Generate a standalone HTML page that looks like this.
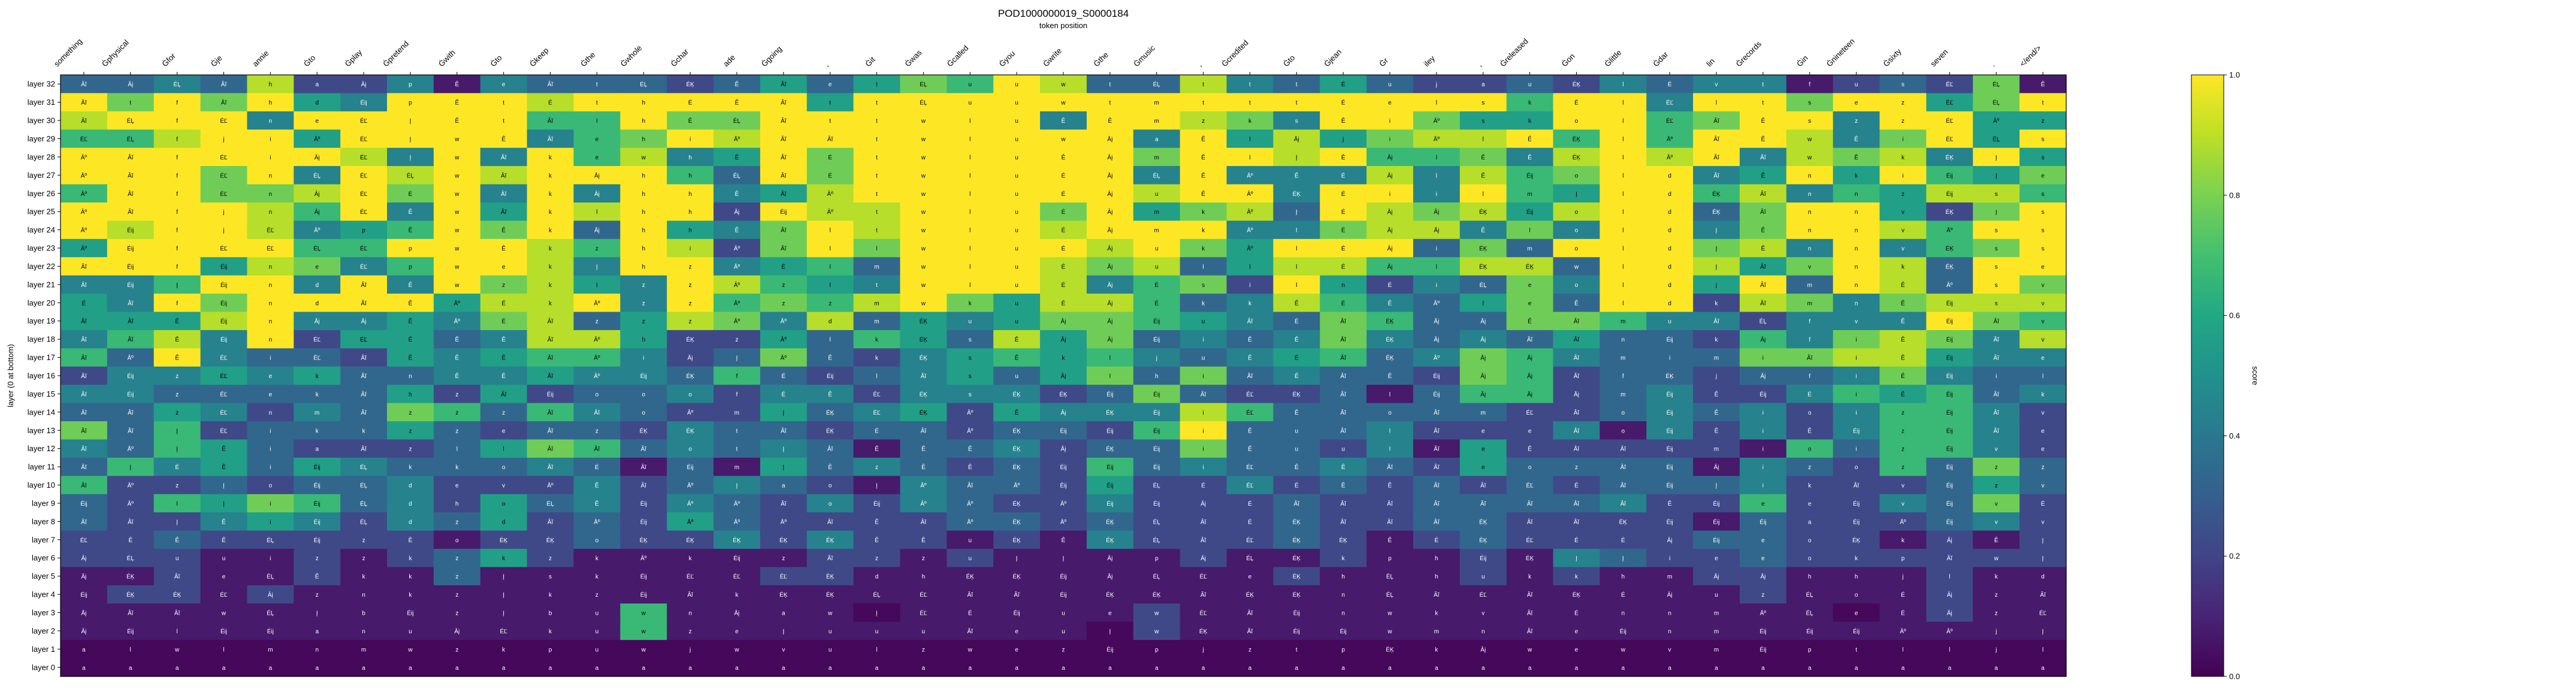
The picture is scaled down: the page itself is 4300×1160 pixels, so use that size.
<!DOCTYPE html>
<html><head><meta charset="utf-8"><style>
html,body{margin:0;padding:0;background:#fff;}
svg text{font-family:"Liberation Sans","DejaVu Sans",sans-serif;}
</style></head><body>
<svg id="chart" xmlns="http://www.w3.org/2000/svg" width="4300" height="1155" viewBox="0 0 4300 1155">
<text x="1775" y="28" font-size="17" text-anchor="middle">POD1000000019_S0000184</text>
<text x="1775" y="47" font-size="13" text-anchor="middle">token position</text>
<text x="22" y="627" font-size="13" text-anchor="middle" transform="rotate(-90 22 627)">layer (0 at bottom)</text>
<g id="cells"></g><g id="xlabels"></g><g id="ylabels"></g><g id="cbar"></g>
</svg>
<script>
const tokens = ["something","Ġphysical","Ġfor","Ġje","annie","Ġto","Ġplay","Ġpretend","Ġwith","Ġto","Ġkeep","Ġthe","Ġwhole","Ġchar","ade","Ġgoing",",","Ġit","Ġwas","Ġcalled","Ġyou","Ġwrite","Ġthe","Ġmusic",",","Ġcredited","Ġto","Ġjean","Ġr","iley",",","Ġreleased","Ġon","Ġlittle","Ġdar","lin","Ġrecords","Ġin","Ġnineteen","Ġsixty","seven",".","</end/>"];
const layers = ["layer 32","layer 31","layer 30","layer 29","layer 28","layer 27","layer 26","layer 25","layer 24","layer 23","layer 22","layer 21","layer 20","layer 19","layer 18","layer 17","layer 16","layer 15","layer 14","layer 13","layer 12","layer 11","layer 10","layer 9","layer 8","layer 7","layer 6","layer 5","layer 4","layer 3","layer 2","layer 1","layer 0"];
const levelScores = [0.02,0.07,0.22,0.33,0.44,0.56,0.67,0.78,0.89,1.0];
const scoreRows = [
"33438224143332"+"353576983384353"+"22324344123271",
"97979549998999"+"995999999999999"+"99699499799579",
"89994999996697"+"799999949987499"+"75599679949955",
"66899599994679"+"899999999495857"+"88969699847959",
"99999984949684"+"597999999799896"+"67489894878495",
"99979498989996"+"397999999494448"+"48679945959657",
"69977897949499"+"458999999899499"+"49659968465886",
"99998694959899"+"298899979578398"+"78589937995279",
"98998456979395"+"479899989994478"+"84749947998699",
"59999669998698"+"279799998975999"+"37399978494679",
"99958746998499"+"456399987835886"+"68839985798399",
"44699494978549"+"865499984672952"+"43749959398397",
"54979999588949"+"676897588634864"+"35739928747888",
"55589445478358"+"748354577654376"+"33776442444976",
"46849255348852"+"253653857343474"+"34353326478748",
"63943325456642"+"373245656434563"+"47643337788544",
"24454533445443"+"632345357373433"+"27623323347433",
"44333335252334"+"244244423732231"+"36623422465634",
"33542437636432"+"253452544486333"+"33223434246642",
"73623335323324"+"332332332693334"+"22241424246642",
"43653222357634"+"343133423373324"+"15222221636642",
"36453543334313"+"153432326343343"+"25333314326373",
"62232334222423"+"432143325224232"+"32323334222353",
"32657634253424"+"324243224222322"+"33334226224372",
"32245424352325"+"322223323222322"+"33222213222342",
"22322222122322"+"424221214222321"+"23222233221212",
"22211212352111"+"112212111121121"+"12143223222222",
"11211211311111"+"122111111111211"+"12121122111211",
"12212111111111"+"111111111111111"+"11111112111211",
"11111111111161"+"111011111211111"+"11111111101211",
"11111111111161"+"111111110211111"+"11111111111111",
"0000000000000000000000000000000000000000000",
"0000000000000000000000000000000000000000000"
];
const cellText = [
"Âĭ Āį ÉĻ Âĭ h a Āį p Ê e Âĭ t ÉĻ ÉĶ Ê Âĭ e t ÉĻ u u w t ÉĻ t t t É u j a u ÉĶ l É v t f u s ÉĽ ÉĻ Ê",
"Âĭ t f Âĭ h d Éij p Ê t É t h É Ê Âĭ t t ÉĻ u u w t m t t t É e l s k É l ÉĽ l t s e z ÉĽ ÉĻ t",
"Âĭ ÉĻ f ÉĽ n e ÉĽ Į Ê t Âĭ l h Ê ÉĻ Âĭ t t w l u Ê Ê m z k s Ê i Āº s k o l ÉĽ Âĭ Ê s z z ÉĽ Āº z",
"ÉĽ ÉĻ f j i Āº ÉĽ Į w Ê Âĭ e h i Āº Âĭ Âĭ t w l u w Āį a Ê l Āį j i Āº l Ê ÉĶ l Āº Âĭ Ê w Ê i ÉĽ ÉĻ s",
"Āº Âĭ f ÉĽ i Āį ÉĽ Į w Âĭ k e w h Ê Âĭ É t w l u Ê Āį m Ê l Į Ê Āį l Ê Ê ÉĶ l Āº Âĭ Âĭ w Ê k ÉĶ Į s",
"Āº Âĭ f ÉĽ n ÉĻ ÉĽ ÉĻ w Âĭ k Āį h h ÉĻ Âĭ É t w l u É Āį ÉĻ Ê Āº Ê É Āį l Ê Éij o l d Âĭ Ê n k i Éij Į e",
"Āº Âĭ f ÉĽ n Āį ÉĽ É w Âĭ k Āį h h Ê Âĭ Āº t w l u É Āį u Ê Āº ÉĶ É i i l m Į l d ÉĶ Âĭ n n z Éij s s",
"Āº Âĭ f j n Āį ÉĽ Ê w Âĭ k l h h Āį Éij Āº t w l u É Āį m k Āº Į É Āį Āį ÉĶ Éij o l d ÉĶ Âĭ n n v ÉĶ Į s",
"Āº Éij f j ÉĽ Āº p Ê w Ê k Āį h h Ê Âĭ l t w l u É Āį m k Āº l É Āį Āį Ê l o l d Į Ê n n v Āº s s",
"Āº Éij f ÉĽ ÉĽ ÉĻ ÉĽ p w Ê k z h i Āº Âĭ l l w l u É Āį u k Āº l É Āį i ÉĶ m o l d Į Ê n n v ÉĶ s s",
"Âĭ Éij f Éij n e ÉĽ p w e k Į h z Āº É l m w l u É Āį u l l l É Āį l ÉĶ ÉĶ w l d Į Âĭ v n k ÉĶ s e",
"Âĭ Éij Į Éij n d Âĭ Ê w z k l z z Āº z l t w l u É Āį É s i l n É i ÉĻ e o l d j Âĭ m n Ê Āº s v",
"É Âĭ f Éij n d Âĭ Ê Āº É k Āº z z Āº z z m w k u É Āį É k k Ê É Ê Āº l e Ê l d k Âĭ m n Ê Éij s v",
"Âĭ Âĭ Ê Éij n Āį Āį Ê Āº É Âĭ z z z Āº Āº d m ÉĶ u u Āį Āį Éij u Âĭ É Âĭ ÉĶ Āį Āį Ê Âĭ m u Âĭ ÉĻ f v Ê Éij Âĭ v",
"Âĭ Âĭ Ê Éij n ÉĽ ÉĽ Ê Ê Ê Âĭ Āº h ÉĶ z Āº l k ÉĶ s Ê Āį Āį Éij i Ê Ê Âĭ ÉĶ Āį Āį Âĭ Âĭ n Éij k Āį f i Ê Éij Âĭ v",
"Âĭ Āº Ê ÉĽ i ÉĽ Âĭ Ê Ê Ê Âĭ Āº i Āį Į Āº Ê k ÉĶ s Ê k l j u Ê É Âĭ ÉĶ Āº Āį Āį Âĭ m i m i Âĭ i Ê Éij Âĭ e",
"Âĭ Éij z ÉĽ e k Âĭ n Ê Ê Âĭ Āº Éij ÉĶ f É Éij l Âĭ s u Āį l h i Âĭ Ê Âĭ Ê Éij Āį Āį Âĭ f ÉĶ j Āį f i Ê Éij i l",
"Âĭ Éij z ÉĽ e k Âĭ h z Âĭ Éij o o o f É Ê ÉĽ ÉĶ s ÉĶ ÉĶ Éij Éij Âĭ ÉĽ ÉĶ Âĭ l Éij Āį Āį Āį m Éij Ê Éij É i Ê Éij Âĭ k",
"Âĭ Âĭ z ÉĽ n m Âĭ z z z Âĭ Âĭ o Āº m Į ÉĶ ÉĽ ÉĶ Āº Ê Āį ÉĶ Éij i ÉĽ Ê Âĭ o Âĭ m ÉĽ Âĭ o Éij Ê i o i z Éij Âĭ v",
"Âĭ Âĭ Į ÉĽ i k k z z e Âĭ z ÉĶ ÉĶ t Âĭ ÉĶ É Âĭ Āº ÉĶ Éij Éij Éij i Ê u Âĭ l Âĭ e e Âĭ o Éij Ê i Ê Éij z Éij Âĭ e",
"Âĭ Āº Į Ê i a Âĭ z l l Âĭ Âĭ Âĭ o t Į Âĭ Ê Ê Ê ÉĶ Āį ÉĶ Éij i Ê u u l Âĭ e Ê Âĭ Âĭ Éij m i o i z Éij v e",
"Âĭ Į É Ê i Éij ÉĻ k k o Âĭ É Âĭ Éij m Į Ê z Ê Ê ÉĶ Éij Éij Éij i ÉĽ Ê Ê Âĭ Âĭ e o z Âĭ Éij Āį i z o z Éij z z",
"Âĭ Āº z Į o Éij ÉĻ d e v Āº Ê Âĭ Āº Į a o Į Āº Âĭ Āº Éij Éij ÉĻ É ÉĽ É Ê Ê Âĭ Âĭ ÉĽ É Âĭ Éij Į i k Âĭ v Éij z v",
"Éij Āº l Į i Éij ÉĻ d h o ÉĻ Ê Éij Āº Āº Âĭ o Éij Āº Āº ÉĶ Āº Éij Éij Āį É Âĭ Âĭ Âĭ Âĭ Âĭ Âĭ Âĭ Âĭ Ê Éij e e Éij v Éij v É",
"Âĭ Âĭ Į Ê i Éij ÉĻ d z d Âĭ Āº Éij Āº Āº Āº Âĭ Ê Âĭ Āº ÉĶ Āº ÉĶ ÉĻ Âĭ É ÉĶ Âĭ Âĭ Âĭ ÉĶ Âĭ Âĭ ÉĶ Éij Éij Éij a Éij Āº Éij v v",
"ÉĽ Ê Ê Ê ÉĻ Éij z Ê o ÉĶ ÉĶ o ÉĶ ÉĶ ÉĶ ÉĶ ÉĶ Ê Ê u ÉĶ Ê ÉĶ ÉĻ Âĭ ÉĽ ÉĶ ÉĶ Ê É ÉĶ ÉĽ É É Āį Éij e o ÉĶ k Āį Ê Į",
"Āį ÉĻ u u i z z k z k z k Āº k Éij z Âĭ z z u Į Į Āį p Āį ÉĻ ÉĶ k p h Éij ÉĶ Į Į i e e o k p Âĭ w Į",
"Āį ÉĶ Âĭ e ÉĻ Ê k k z Į s k Éij ÉĽ ÉĽ ÉĽ ÉĶ d h ÉĶ ÉĶ Éij Āį ÉĻ ÉĽ e ÉĶ h ÉĻ h u k k h m Āį Āį h h j l k d",
"Éij ÉĶ ÉĶ ÉĽ Āį z n k z Į k z Éij Âĭ k ÉĶ ÉĶ ÉĻ ÉĽ Âĭ Âĭ Éij ÉĶ ÉĶ Âĭ ÉĶ ÉĶ n ÉĻ Âĭ ÉĽ Âĭ ÉĶ É Āį u z ÉĻ o É Āį z Âĭ",
"Āį Âĭ Âĭ w ÉĻ Į b Éij z Į b u w n Āį a w Į ÉĽ É Éij u e w ÉĽ Âĭ Éij n w k v Âĭ É n n m Āº ÉĻ e É Āį z ÉĽ",
"Āį Éij l Éij Éij a n u Āį ÉĽ k u w z e Į u u u Âĭ e u Į w ÉĶ Âĭ Éij Éij w m n Âĭ e Éij n m Éij Éij Éij Āº Āº j Į",
"a l w l m n m w z k p u w j w v u l z w e z Éij p j z t p ÉĶ k Āį w e w v m Éij p t l l j l",
"a a a a a a a a a a a a a a a a a a a a a a a a a a a a a a a a a a a a a a a a a a a"
];
const cbTicks = [0.0,0.2,0.4,0.6,0.8,1.0];
const cbTickLabels = ["0.0","0.2","0.4","0.6","0.8","1.0"];

const NS="http://www.w3.org/2000/svg";
const X0=101, X1=3449, Y0=125, Y1=1129;
const cw=(X1-X0)/tokens.length, ch=(Y1-Y0)/layers.length;
const xPos=i=>X0+i*cw, yPos=r=>Y0+r*ch;
const stops=[[68,1,84],[72,36,117],[65,68,135],[53,95,141],[42,120,142],[33,145,140],[34,168,132],[68,191,112],[122,209,81],[189,223,38],[253,231,37]];
function viridis(v){v=Math.max(0,Math.min(1,v));const t=v*10,i=Math.min(9,Math.floor(t)),f=t-i;const a=stops[i],b=stops[i+1];
return `rgb(${Math.round(a[0]+(b[0]-a[0])*f)},${Math.round(a[1]+(b[1]-a[1])*f)},${Math.round(a[2]+(b[2]-a[2])*f)})`;}
function mk(tag,attrs,parent){const e=document.createElementNS(NS,tag);for(const k in attrs)e.setAttribute(k,attrs[k]);parent.appendChild(e);return e;}

const gc=document.getElementById('cells');
scoreRows.forEach((row,r)=>{
  const txt=cellText[r].split(' ');
  for(let c=0;c<tokens.length;c++){
    const s=levelScores[+row[c]];
    const rect=mk('rect',{x:xPos(c),y:yPos(r),width:cw+0.6,height:ch+0.6,fill:viridis(s)},gc);
    
    
    const t=mk('text',{x:xPos(c)+cw/2,y:yPos(r)+ch/2+4,'font-size':10,'text-anchor':'middle',fill:s<0.5?'#fff':'#000'},gc);
    
    
    t.textContent=txt[c]||'';
  }
});
const fr=mk('rect',{x:X0,y:Y0,width:X1-X0,height:Y1-Y0,fill:'none',stroke:'#000','stroke-width':1.2},gc);



const gx=document.getElementById('xlabels');
tokens.forEach((tk,i)=>{
  const x=xPos(i)+cw/2;
  const tm=mk('line',{x1:x,y1:Y0,x2:x,y2:Y0-5,stroke:'#000','stroke-width':1},gx);
  
  
  const t=mk('text',{x:0,y:0,'font-size':13,'text-anchor':'start'},gx);
  
  
  t.textContent=tk;
  const L=t.getComputedTextLength();
  const sx=x-L*0.7071-2, sy=Y0-13;
  t.setAttribute('x',sx);t.setAttribute('y',sy);
  t.setAttribute('transform',`rotate(-45 ${sx} ${sy})`);
});
const gy=document.getElementById('ylabels');
layers.forEach((ly,r)=>{
  const y=yPos(r)+ch/2;
  const tm=mk('line',{x1:X0,y1:y,x2:X0-5,y2:y,stroke:'#000','stroke-width':1},gy);
  
  
  const t=mk('text',{x:X0-9,y:y+4.5,'font-size':13,'text-anchor':'end'},gy);
  
  
  t.textContent=ly;
});

const gb=document.getElementById('cbar');
const CX0=3658, CX1=3712;
const defs=mk('defs',{},gb);
const lg=mk('linearGradient',{id:'vir',x1:0,y1:1,x2:0,y2:0},defs);
stops.forEach((s,i)=>mk('stop',{offset:(i*10)+'%','stop-color':`rgb(${s[0]},${s[1]},${s[2]})`},lg));
const cb=mk('rect',{x:CX0,y:Y0,width:CX1-CX0,height:Y1-Y0,fill:'url(#vir)',stroke:'#000','stroke-width':1},gb);


const cbY=v=>Y1-v*(Y1-Y0);
cbTicks.forEach((v,i)=>{
  const y=cbY(v);
  const tm=mk('line',{x1:CX1,y1:y,x2:CX1+5,y2:y,stroke:'#000','stroke-width':1},gb);
  
  
  const t=mk('text',{x:CX1+9,y:y+4.5,'font-size':13},gb);
  
  
  t.textContent=cbTickLabels[i];
});
const ct=mk('text',{x:3760,y:627,'font-size':13,'text-anchor':'middle',transform:'rotate(90 3760 627)'},gb);


ct.textContent='score';
</script>
</body></html>
